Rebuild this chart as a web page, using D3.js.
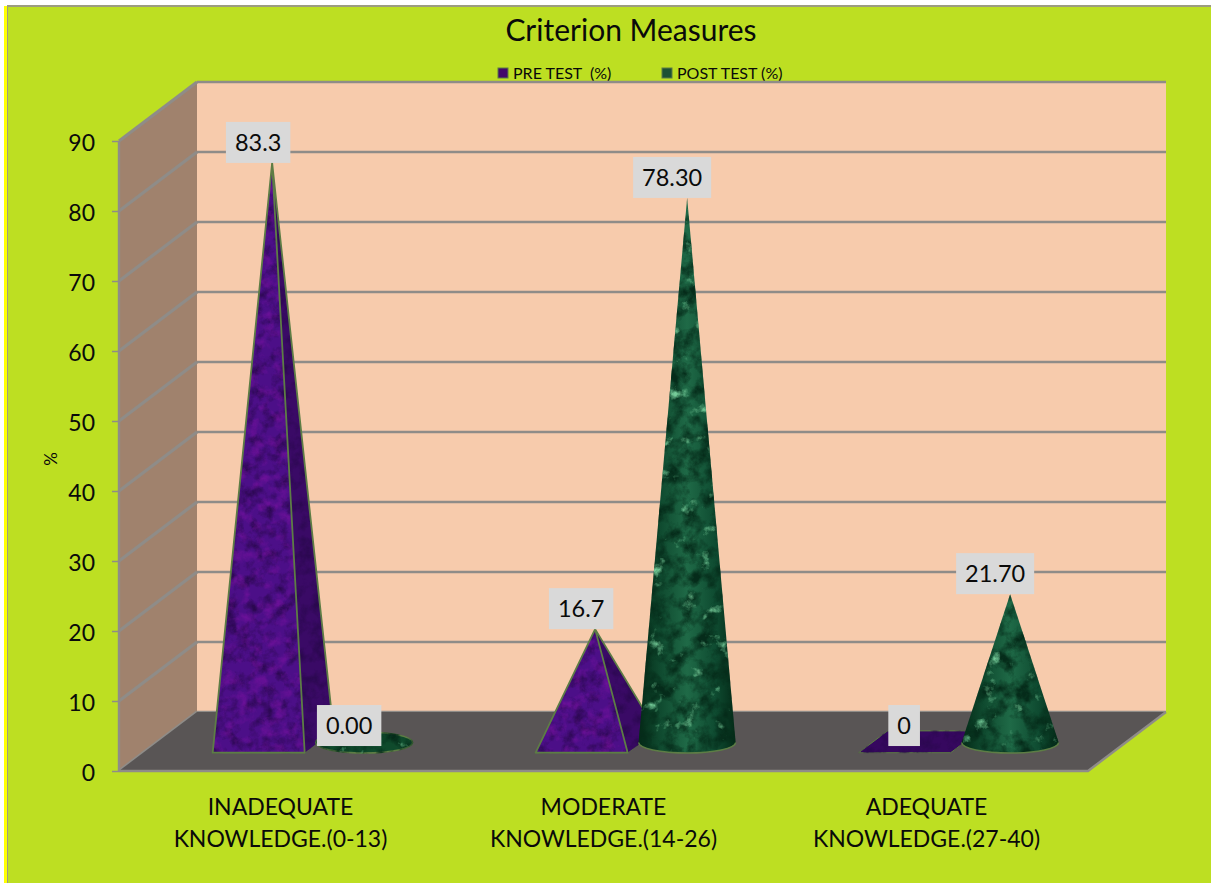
<!DOCTYPE html>
<html>
<head>
<meta charset="utf-8">
<style>
	html, body { margin: 0; padding: 0; background: #fff; }
	svg { display: block; }
	text { font-family: Lato, "Open Sans", sans-serif; fill: #0a0a0a; }
</style>
<script src="https://cdn.jsdelivr.net/npm/d3@7"></script>
</head>
<body>
<svg width="1211" height="883"></svg>
<script>
const categories = ["INADEQUATE KNOWLEDGE.(0-13)", "MODERATE KNOWLEDGE.(14-26)", "ADEQUATE KNOWLEDGE.(27-40)"]
const categoryLines = [["INADEQUATE", "KNOWLEDGE.(0-13)"], ["MODERATE", "KNOWLEDGE.(14-26)"], ["ADEQUATE", "KNOWLEDGE.(27-40)"]]
const seriesNames = ["PRE TEST  (%)", "POST TEST (%)"]
const preTest = [83.3, 16.7, 0]
const postTest = [0, 78.3, 21.7]
const preLabels = ["83.3", "16.7", "0"]
const postLabels = ["0.00", "78.30", "21.70"]
const yTicks = [0, 10, 20, 30, 40, 50, 60, 70, 80, 90]

const svg = d3.select('svg')
const width = +svg.attr('width')
const height = +svg.attr('height')

const plot = {left: 119, right: 1088, bottom: 771, top: 141, depthX: 78, depthY: 59}

const xScale = d3.scaleBand()
	.domain(categories)
	.range([plot.left, plot.right])

const seriesScale = d3.scaleBand()
	.domain(seriesNames)
	.range([xScale.bandwidth() / 2 - 92, xScale.bandwidth() / 2 + 92])

const yScale = d3.scaleLinear()
	.domain([0, 90])
	.range([plot.bottom, plot.top])

// oblique projection of the floor, d = 0 at the front edge and 1 at the wall
const project = (x, d) => [x + plot.depthX * d, plot.bottom - plot.depthY * d]
const barFront = 0.31
const barBack = 0.68
const barMid = 0.4825
const apexDrop = 3.5

const defs = svg.append('defs')

const addMarble = (id, seed, freq, layers) => {
	const f = defs.append('filter')
		.attr('id', id)
		.attr('x', '-5%').attr('y', '-5%').attr('width', '110%').attr('height', '110%')
		.attr('color-interpolation-filters', 'sRGB')
	f.append('feTurbulence')
		.attr('type', 'fractalNoise')
		.attr('baseFrequency', freq)
		.attr('numOctaves', 5)
		.attr('seed', seed)
		.attr('result', 'noise')
	layers.forEach((values, i) => {
		f.append('feColorMatrix')
			.attr('in', 'noise')
			.attr('type', 'matrix')
			.attr('values', values)
			.attr('result', `tone${i}`)
		f.append('feComposite')
			.attr('in', `tone${i}`)
			.attr('in2', 'SourceAlpha')
			.attr('operator', 'in')
			.attr('result', `clip${i}`)
	})
	const merge = f.append('feMerge')
	merge.append('feMergeNode').attr('in', 'SourceGraphic')
	layers.forEach((v, i) => merge.append('feMergeNode').attr('in', `clip${i}`))
}

const purpleShadow = '0 0 0 0 0.16  0 0 0 0 0.03  0 0 0 0 0.30  2.2 0 0 0 -0.95'
addMarble('marblePurple', 4, 0.08, [
	purpleShadow,
	'0 0 0 0 0.46  0 0 0 0 0.07  0 0 0 0 0.62  0 2.0 0 0 -0.95'
])
addMarble('marblePurpleDark', 4, 0.08, [purpleShadow])
addMarble('marbleGreen', 9, 0.06, [
	'0 0 0 0 0.02  0 0 0 0 0.17  0 0 0 0 0.10  2.8 0 0 0 -1.15',
	'0 0 0 0 0.46  0 0 0 0 0.80  0 0 0 0 0.60  0 4.2 0 0 -2.75'
])

const coneGrad = defs.append('linearGradient').attr('id', 'coneShade')
coneGrad.append('stop').attr('offset', '0%').attr('stop-color', '#042a17')
coneGrad.append('stop').attr('offset', '22%').attr('stop-color', '#0f4a2f')
coneGrad.append('stop').attr('offset', '50%').attr('stop-color', '#1f6a47')
coneGrad.append('stop').attr('offset', '80%').attr('stop-color', '#0e4a30')
coneGrad.append('stop').attr('offset', '100%').attr('stop-color', '#042a17')

// page background
svg.append('rect').attr('x', 4).attr('y', 6).attr('width', 3).attr('height', height - 6).attr('fill', '#ffff00')
svg.append('rect').attr('x', 7).attr('y', 6).attr('width', width - 7).attr('height', height - 6)
	.attr('fill', '#bddf22')
svg.append('line').attr('x1', 7).attr('x2', width).attr('y1', 6).attr('y2', 6)
	.attr('stroke', '#9c9c80').attr('stroke-width', 2)
svg.append('line').attr('x1', 7.5).attr('x2', 7.5).attr('y1', 6).attr('y2', height)
	.attr('stroke', '#9c9c80').attr('stroke-width', 1)

svg.append('text')
	.attr('x', 631).attr('y', 41)
	.attr('text-anchor', 'middle')
	.style('font-size', '30px')
	.text('Criterion Measures')

// legend
const legendX = [498, 662]
const legendFill = ['#43096b', '#1c5234']
seriesNames.forEach((name, i) => {
	svg.append('rect')
		.attr('x', legendX[i]).attr('y', 68).attr('width', 10).attr('height', 10)
		.attr('fill', legendFill[i])
		.attr('stroke', '#5d7d45').attr('stroke-width', 1)
	svg.append('text')
		.attr('x', legendX[i] + 15).attr('y', 79)
		.attr('xml:space', 'preserve')
		.style('white-space', 'pre')
		.style('font-size', '16px')
		.text(name)
})

// walls and floor
const wall = '#8f8c88'
const line = d3.line()
const topLeft = [plot.left, yScale(90)]
const bottomLeft = [plot.left, yScale(0)]
const bottomRight = [plot.right, yScale(0)]
const shift = p => [p[0] + plot.depthX, p[1] - plot.depthY]

svg.append('path')
	.attr('d', line([shift(topLeft), [shift(bottomRight)[0], shift(topLeft)[1]], shift(bottomRight), shift(bottomLeft)]) + 'Z')
	.attr('fill', '#f7cbac')
svg.append('path')
	.attr('d', line([topLeft, shift(topLeft), shift(bottomLeft), bottomLeft]) + 'Z')
	.attr('fill', '#a0826d')

yTicks.forEach(t => {
	const front = [plot.left, yScale(t)]
	const back = shift(front)
	svg.append('line')
		.attr('x1', front[0]).attr('y1', front[1])
		.attr('x2', back[0]).attr('y2', back[1])
		.attr('stroke', wall)
		.attr('stroke-width', 3.2)
	svg.append('line')
		.attr('x1', back[0]).attr('y1', back[1])
		.attr('x2', back[0] + plot.right - plot.left).attr('y2', back[1])
		.attr('stroke', wall)
		.attr('stroke-width', 2.4)
})

svg.append('path')
	.attr('d', line([bottomLeft, bottomRight, shift(bottomRight), shift(bottomLeft)]) + 'Z')
	.attr('fill', '#595555')
svg.append('path')
	.attr('d', line([bottomLeft, bottomRight, shift(bottomRight)]))
	.attr('fill', 'none')
	.attr('stroke', wall)
	.attr('stroke-width', 2.4)
svg.append('line')
	.attr('x1', plot.left).attr('x2', plot.left)
	.attr('y1', yScale(90)).attr('y2', yScale(0))
	.attr('stroke', wall)
	.attr('stroke-width', 2.4)

// axis
const yAxis = d3.axisLeft(yScale).tickValues(yTicks).tickSize(7).tickPadding(17)
const yAxisG = svg.append('g')
	.attr('transform', `translate(${plot.left}, 0)`)
	.call(yAxis)
yAxisG.select('.domain').remove()
yAxisG.selectAll('.tick line').attr('stroke', wall).attr('stroke-width', 1.5)
yAxisG.selectAll('.tick text')
	.attr('fill', '#0a0a0a')
	.attr('dy', '0.4em')
	.style('font-family', 'Lato, sans-serif')
	.style('font-size', '23px')

svg.append('text')
	.attr('transform', 'translate(57, 459) rotate(-90)')
	.attr('text-anchor', 'middle')
	.style('font-size', '17px')
	.text('%')

// category labels
categories.forEach((c, i) => {
	const cx = xScale(c) + xScale.bandwidth() / 2
	categoryLines[i].forEach((l, j) => {
		svg.append('text')
			.attr('x', cx).attr('y', 815 + j * 32)
			.attr('text-anchor', 'middle')
			.style('font-size', '23px')
			.text(l)
	})
})

const outline = '#5d7d45'

const drawPyramid = (c, value) => {
	const x0 = xScale(c) + seriesScale(seriesNames[0])
	const x1 = x0 + seriesScale.bandwidth()
	const fl = project(x0, barFront)
	const fr = project(x1, barFront)
	const br = project(x1, barBack)
	const bl = project(x0, barBack)
	const mid = project((x0 + x1) / 2, barMid)
	const apex = [mid[0], mid[1] - (yScale(0) - yScale(value)) + apexDrop]
	const g = svg.append('g')
	g.append('path')
		.attr('d', line([fl, fr, br, bl]) + 'Z')
		.attr('fill', '#36085f')
		.attr('filter', 'url(#marblePurpleDark)')
		.attr('stroke', outline)
	if (value === 0) return apex
	g.append('path')
		.attr('d', line([fr, br, apex]) + 'Z')
		.attr('fill', '#3a0a66')
		.attr('filter', 'url(#marblePurpleDark)')
	g.append('path')
		.attr('d', line([fl, fr, apex]) + 'Z')
		.attr('fill', '#4c0f88')
		.attr('filter', 'url(#marblePurple)')
	g.append('path')
		.attr('d', line([br, apex, fr, fl, apex]))
		.attr('fill', 'none')
		.attr('stroke', outline)
		.attr('stroke-width', 1.8)
		.attr('stroke-linejoin', 'round')
	return apex
}

const drawCone = (c, value) => {
	const x0 = xScale(c) + seriesScale(seriesNames[1])
	const x1 = x0 + seriesScale.bandwidth()
	const mid = project((x0 + x1) / 2, barMid)
	const rx = (x1 - x0) / 2 + 2.5
	const ry = 10.5
	const apex = [mid[0], mid[1] - (yScale(0) - yScale(value)) + apexDrop]
	const g = svg.append('g')
	if (value === 0) {
		g.append('ellipse')
			.attr('cx', mid[0]).attr('cy', mid[1]).attr('rx', rx).attr('ry', ry)
			.attr('fill', '#0f4a2c')
			.attr('filter', 'url(#marbleGreen)')
			.attr('stroke', outline)
			.attr('stroke-width', 1.5)
		return apex
	}
	g.append('path')
		.attr('d', `M${mid[0] - rx},${mid[1]}L${apex[0]},${apex[1]}L${mid[0] + rx},${mid[1]}A${rx},${ry} 0 0 1 ${mid[0] - rx},${mid[1]}Z`)
		.attr('fill', 'url(#coneShade)')
		.attr('filter', 'url(#marbleGreen)')
	g.append('path')
		.attr('d', `M${mid[0] + rx},${mid[1]}A${rx},${ry} 0 0 1 ${mid[0] - rx},${mid[1]}`)
		.attr('fill', 'none')
		.attr('stroke', outline)
		.attr('stroke-width', 1.5)
	return apex
}

const drawLabel = (x, apex, label) => {
	const g = svg.append('g')
	const box = g.append('rect').attr('fill', '#d9d9d9')
	const text = g.append('text')
		.attr('x', x)
		.attr('y', apex[1] - 12)
		.attr('text-anchor', 'middle')
		.style('font-size', '23.5px')
		.text(label)
	const w = text.node().getBBox().width + 18
	box.attr('x', x - w / 2).attr('y', apex[1] - 41).attr('width', w).attr('height', 41)
}

const labelQueue = []
categories.forEach((c, i) => {
	const apexPre = drawPyramid(c, preTest[i])
	const apexPost = drawCone(c, postTest[i])
	labelQueue.push([apexPre[0] - 14, apexPre, preLabels[i]])
	labelQueue.push([apexPost[0] - 15, apexPost, postLabels[i]])
})
labelQueue.forEach(d => drawLabel(d[0], d[1], d[2]))
</script>
</body>
</html>
